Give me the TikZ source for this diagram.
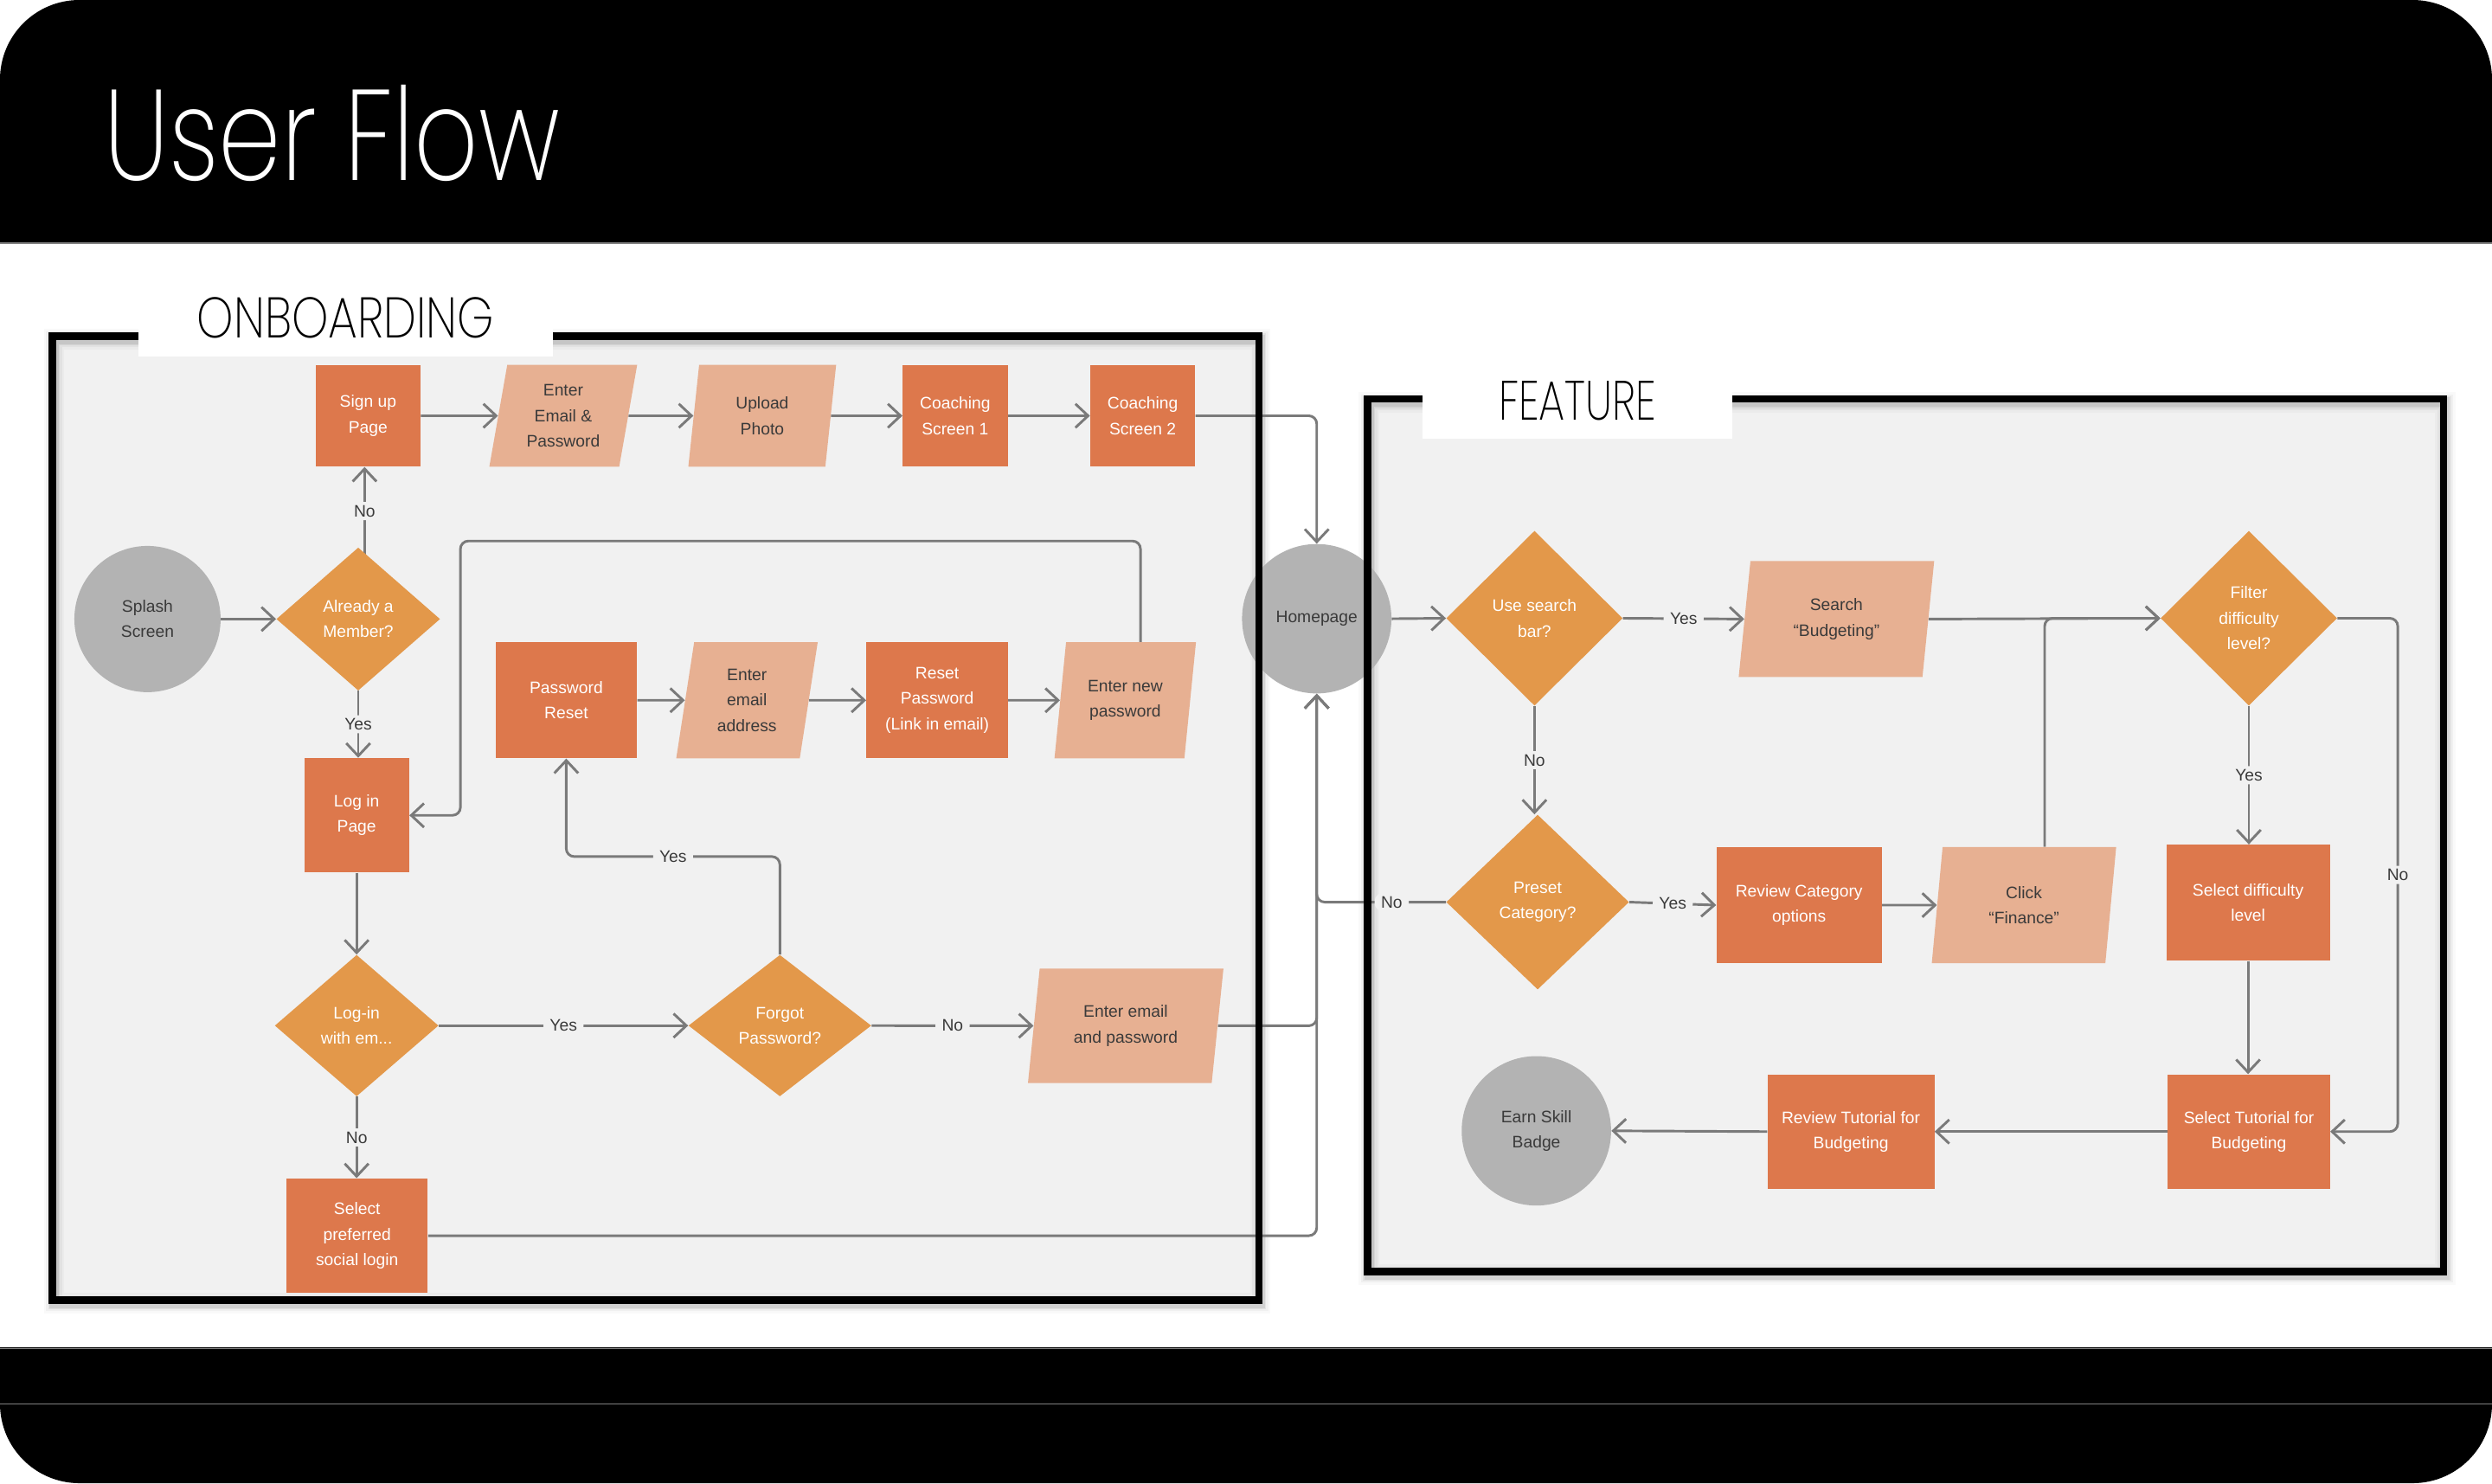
\documentclass[tikz,border=0pt]{standalone}
\usepackage{fontspec}
\usepackage{graphicx}
\setmainfont{Liberation Sans}
\IfFontExistsTF{Poppins ExtraLight}{\newfontfamily\titlefont{Poppins ExtraLight}}{%
  \IfFontExistsTF{Poppins Light}{\newfontfamily\titlefont{Poppins Light}}{\newfontfamily\titlefont{Poppins}}}
\usetikzlibrary{shapes.geometric, arrows.meta, calc}
\definecolor{procC}{HTML}{DD784C}
\definecolor{decC}{HTML}{E3984A}
\definecolor{paraC}{HTML}{E7B092}
\definecolor{termC}{HTML}{B3B3B3}
\definecolor{bgC}{HTML}{F1F1F1}
\definecolor{lineC}{HTML}{7A7A7A}
\definecolor{txtC}{HTML}{3A3A3A}
\pgfdeclarelayer{bg}
\pgfdeclarelayer{edges}
\pgfdeclarelayer{fg}
\pgfsetlayers{bg,edges,main,fg}
\begin{document}
\begin{tikzpicture}[x=1pt,y=-1pt,
  base/.style={font=\fontsize{10.5}{16}\selectfont, align=center, inner sep=0pt},
  proc/.style 2 args={base, rectangle, fill=procC, text=white, minimum width=#1, minimum height=#2},
  dec/.style 2 args={base, diamond, fill=decC, text=white, minimum width=#1, minimum height=#2},
  para/.style 2 args={base, trapezium, trapezium left angle=74, trapezium right angle=106,
     trapezium stretches body, fill=paraC, text=txtC, minimum width=#1, minimum height=#2},
  term/.style={base, circle, fill=termC, text=txtC, minimum size=#1},
  conn/.style={draw=lineC, line width=1.6pt, rounded corners=5pt,
     -{Straight Barb[length=8pt, width=15pt, line width=1.6pt]}},
  lbl/.style={base, fill=bgC, text=txtC, inner xsep=4pt, inner ysep=2pt},
  framebox/.style={draw=black, line width=4.5pt},
  halo/.style={draw=black, opacity=#1}
]
\useasboundingbox (0,0) rectangle (1568,933.2);

% ---------- background ----------
\begin{pgfonlayer}{bg}
\fill[white] (0,0) rectangle (1568,933.2);
\begin{scope}
  \clip (0,0) rectangle (1568,153);
  \fill[black, rounded corners=50pt] (0,0) rectangle (1568,260);
\end{scope}
\draw[gray, line width=0.6pt] (0,153) -- (1568,153);
\begin{scope}
  \clip (0,848) rectangle (1568,933.2);
  \fill[black, rounded corners=50pt] (0,760) rectangle (1568,933.2);
\end{scope}
\draw[gray, line width=0.6pt] (0,848.3) -- (1568,848.3);
\draw[gray, line width=0.6pt] (0,883.5) -- (1568,883.5);
% frame fills
\fill[bgC] (33,211.5) rectangle (792,818);
\fill[bgC] (860.5,251) rectangle (1537.5,800);
% soft halo around frames
\foreach \w/\o in {13/0.025, 10/0.035, 7.5/0.05, 6/0.07} {
  \draw[halo=\o, line width=\w pt] (34,213.5) rectangle (793,820);
  \draw[halo=\o, line width=\w pt] (861.5,253) rectangle (1538.5,802);
}
\end{pgfonlayer}

% ---------- nodes: onboarding ----------
\node[proc={66}{64}] (signup) at (231.6,261.6) {Sign up\\Page};
\node[para={93}{64}] (entere) at (354.4,261.6) {Enter\\Email \&\\Password};
\node[para={93}{64}] (upload) at (479.6,261.6) {Upload\\Photo};
\node[proc={66}{64}] (coach1) at (601,261.6) {Coaching\\Screen 1};
\node[proc={66}{64}] (coach2) at (719,261.6) {Coaching\\Screen 2};
\node[term=92] (splash) at (92.8,389.5) {Splash\\Screen};
\node[dec={103}{90}] (member) at (225.4,389.5) {Already a\\Member?};
\node[proc={66}{72}] (login) at (224.4,513) {Log in\\Page};
\node[proc={89}{73}] (pwreset) at (356.3,440.6) {Password\\Reset};
\node[para={89}{73}] (emailaddr) at (470,440.6) {Enter\\email\\address};
\node[proc={89}{73}] (resetpw) at (589.7,440.6) {Reset\\Password\\(Link in email)};
\node[para={89}{73}] (newpw) at (708,440.6) {Enter new\\password};
\node[dec={103}{89}] (loginq) at (224.4,645.3) {Log-in\\with em...};
\node[dec={115}{89}] (forgot) at (490.7,645.3) {Forgot\\Password?};
\node[para={123}{72}] (enterep) at (708.3,645.4) {Enter email\\and password};
\node[proc={89}{72}] (social) at (224.7,777.5) {Select\\preferred\\social login};
\node[term=94] (home) at (828.5,389.3) {Homepage};

% ---------- nodes: feature ----------
\node[dec={111}{110}] (usesearch) at (965.5,389) {Use search\\bar?};
\node[para={123}{73}] (searchb) at (1155.5,389.5) {Search\\“Budgeting”};
\node[dec={111}{110}] (filter) at (1415,389) {Filter\\difficulty\\level?};
\node[dec={115}{110}] (preset) at (967.5,567.6) {Preset\\Category?};
\node[proc={104}{73}] (reviewcat) at (1132,569.5) {Review Category\\options};
\node[para={116}{73}] (click) at (1273.5,569.5) {Click\\“Finance”};
\node[proc={103}{73}] (seldiff) at (1414.5,568) {Select difficulty\\level};
\node[proc={102}{72}] (seltut) at (1415,712) {Select Tutorial for\\Budgeting};
\node[proc={105}{72}] (revtut) at (1164.6,712) {Review Tutorial for\\Budgeting};
\node[term=94] (badge) at (966.7,711.5) {Earn Skill\\Badge};

% helper coordinates
\coordinate (mTop) at ($(member.north)+(4,5)$);
\coordinate (npTop) at ($(newpw.north)+(9.6,0)$);
\coordinate (loopTL) at (289.7,340.4);
\coordinate (fY) at ($(forgot.north)!0.5!(pwreset.south)$);
\coordinate (clickTop) at ($(click.north)+(13,0)$);
\coordinate (filterR) at ($(filter.east)+(38,0)$);

% ---------- connectors ----------
\begin{pgfonlayer}{edges}
\draw[conn] (splash.east) -- (member.west);
\draw[conn] (mTop) -- node[lbl]{No} (mTop |- signup.south);
\draw[conn] (member.south) -- node[lbl]{Yes} (member.south |- login.north);
\draw[conn] (signup.east) -- (entere.west);
\draw[conn] (entere.east) -- (upload.west);
\draw[conn] (upload.east) -- (coach1.west);
\draw[conn] (coach1.east) -- (coach2.west);
\draw[conn] (coach2.east) -| (home.north);
\draw[conn] (pwreset.east) -- (emailaddr.west);
\draw[conn] (emailaddr.east) -- (resetpw.west);
\draw[conn] (resetpw.east) -- (newpw.west);
\draw[conn] (npTop) |- (loopTL) |- (login.east);
\draw[conn] (login.south) -- (login.south |- loginq.north);
\draw[conn] (loginq.east) -- node[lbl]{Yes} (forgot.west);
\draw[conn] (forgot.north) |- (fY) node[lbl]{Yes} -| (pwreset.south);
\draw[conn] (forgot.east) -- node[lbl]{No} (enterep.west);
\draw[conn] (loginq.south) -- node[lbl]{No} (loginq.south |- social.north);
\draw[conn] (enterep.east) -| (home.south);
\draw[conn] (social.east) -| (home.south);
\draw[conn] (preset.west) -| node[lbl, pos=0.21]{No} (home.south);
% feature
\draw[conn] (home.east) -- (usesearch.west);
\draw[conn] (usesearch.east) -- node[lbl]{Yes} (searchb.west);
\draw[conn] (searchb.east) -- (filter.west);
\draw[conn] (usesearch.south) -- node[lbl]{No} (usesearch.south |- preset.north);
\draw[conn] (preset.east) -- node[lbl]{Yes} (reviewcat.west);
\draw[conn] (reviewcat.east) -- (click.west);
\draw[conn] (clickTop) |- (filter.west);
\draw[conn] (filter.south) -- node[lbl]{Yes} (filter.south |- seldiff.north);
\draw[conn] (seldiff.south) -- (seldiff.south |- seltut.north);
\draw[conn] (filter.east) -- (filterR) |- node[lbl, pos=0.25]{No} (seltut.east);
\draw[conn] (seltut.west) -- (revtut.east);
\draw[conn] (revtut.west) -- (badge.east);
\end{pgfonlayer}

% ---------- frames and titles ----------
\begin{pgfonlayer}{fg}
\draw[framebox] (33,211.5) rectangle (792,818);
\draw[framebox] (860.5,251) rectangle (1537.5,800);
\fill[white] (87,178) rectangle (348,224.5);
\fill[white] (895,228) rectangle (1090,276);
\node[inner sep=0pt, text=black] (onb) at (217.5,200.2) {\titlefont\resizebox{187pt}{25.5pt}{ONBOARDING}};
\node[inner sep=0pt, text=black] (feat) at (992.5,252.3) {\titlefont\resizebox{99pt}{24.5pt}{FEATURE}};
\node[inner sep=0pt, text=white] (title) at (209,83.7) {\titlefont\resizebox{287pt}{60pt}{User Flow}};
\end{pgfonlayer}
\end{tikzpicture}
\end{document}
